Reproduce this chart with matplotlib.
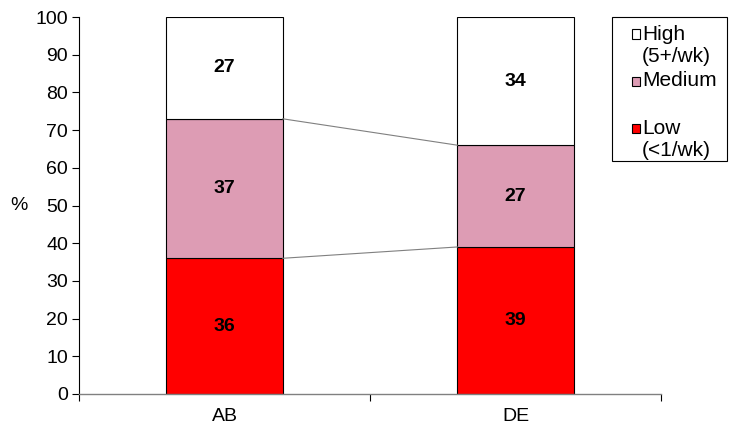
import numpy as np
import matplotlib
matplotlib.use("Agg")
import matplotlib.pyplot as plt
from matplotlib.patches import Rectangle

plt.rcParams['font.family'] = ['Liberation Sans', 'DejaVu Sans']

groups = ['AB', 'DE']
low = [36, 39]
medium = [37, 27]
high = [27, 34]
legend_labels = [('High', '(5+/wk)'), ('Medium', ''), ('Low', '(<1/wk)')]

col_low = '#FF0000'
col_med = '#DD9CB4'
col_high = '#FFFFFF'
fs = 14

W, H = 730, 433
fig = plt.figure(figsize=(W / 100, H / 100), dpi=100)
ax = fig.add_axes([79 / W, 1 - 394 / H, (661 - 79) / W, (394 - 17) / H])

x = np.arange(len(groups))
bw = 0.4
low = np.array(low); medium = np.array(medium); high = np.array(high)
ax.bar(x, low, bw, color=col_low, edgecolor='black', linewidth=0.8)
ax.bar(x, medium, bw, bottom=low, color=col_med, edgecolor='black', linewidth=0.8)
ax.bar(x, high, bw, bottom=low + medium, color=col_high, edgecolor='black', linewidth=0.8)

# series lines between bars
for top in (low, low + medium):
    ax.plot([x[0] + bw / 2, x[1] - bw / 2], [top[0], top[1]], color='#808080', lw=0.8)

for i in range(len(groups)):
    bottoms = [0, low[i], low[i] + medium[i]]
    for b, v in zip(bottoms, [low[i], medium[i], high[i]]):
        ax.text(x[i], b + v / 2, str(v), ha='center', va='center',
                fontsize=fs, fontweight='bold')

ax.set_xlim(-0.5, 1.5)
ax.set_ylim(0, 100)
ax.set_yticks(range(0, 101, 10))
ax.tick_params(axis='y', labelsize=fs, length=5, width=0.8, direction='out', pad=3)
ax.set_xticks([-0.5, 0.5, 1.5])
ax.set_xticklabels([])
ax.set_xticks(x, minor=True)
ax.set_xticklabels(groups, minor=True)
ax.tick_params(axis='x', which='major', length=5, width=0.8, color='black')
ax.tick_params(axis='x', which='minor', length=0, labelsize=fs, pad=10)
ax.spines['top'].set_visible(False)
ax.spines['right'].set_visible(False)
ax.spines['bottom'].set_color('#808080')
ax.spines['left'].set_linewidth(0.8)
ax.spines['bottom'].set_linewidth(1.0)
ax.set_ylabel('%', rotation=0, fontsize=fs, labelpad=12, va='center')


def fx(px):
    return px / W


def fy(py):
    return 1 - py / H


# legend box
fig.add_artist(Rectangle((fx(612), fy(161)), fx(727) - fx(612), fy(17) - fy(161),
                         transform=fig.transFigure, facecolor='white',
                         edgecolor='black', linewidth=0.8))
for (l1, l2), c, y0 in zip(legend_labels, [col_high, col_med, col_low], [34, 81, 128]):
    fig.add_artist(Rectangle((fx(632), fy(y0 + 4.5)), fx(640) - fx(632), fy(y0 - 4.5) - fy(y0 + 4.5),
                             transform=fig.transFigure, facecolor=c,
                             edgecolor='black', linewidth=0.8))
    fig.text(fx(642), fy(y0), l1, fontsize=15, va='center', ha='left')
    if l2:
        fig.text(fx(642), fy(y0 + 22), l2, fontsize=15, va='center', ha='left')

fig.savefig('out.png', dpi=100)
